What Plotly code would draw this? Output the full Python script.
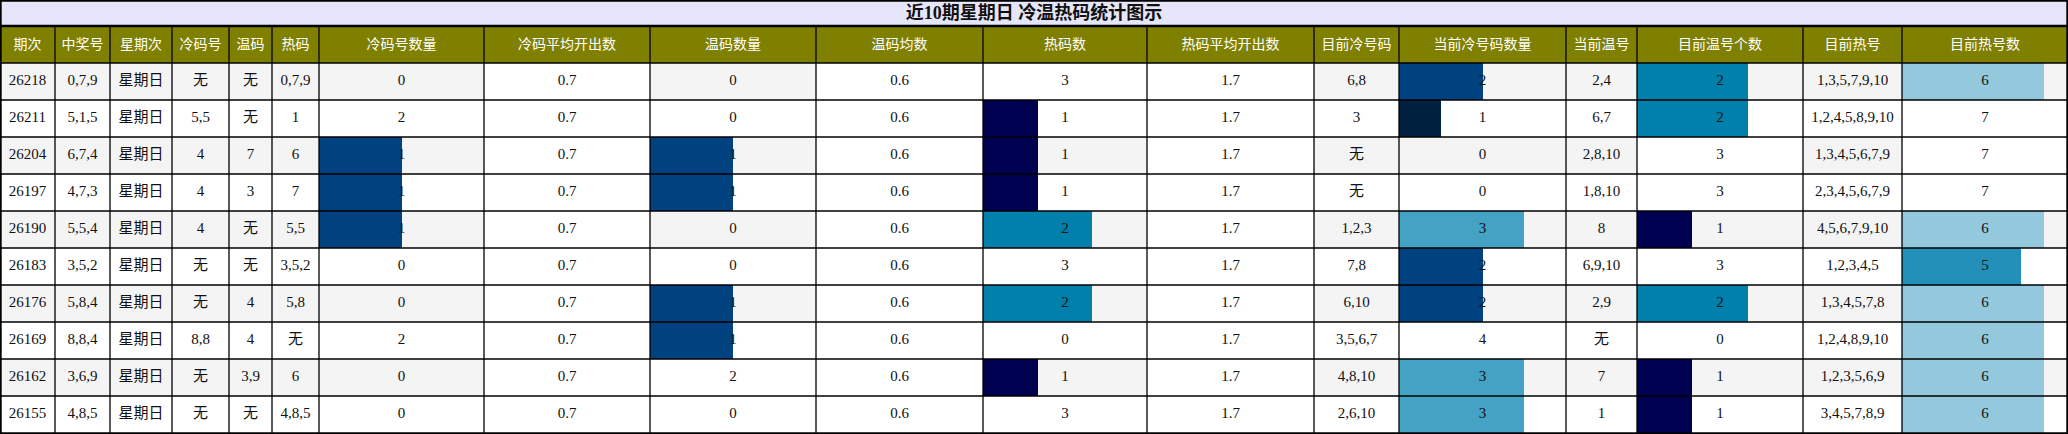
import plotly.graph_objects as go
from plotly.colors import find_intermediate_color, hex_to_rgb, label_rgb

# ---------------- data ----------------
title = "近10期星期日 冷温热码统计图示"
headers = ["期次", "中奖号", "星期次", "冷码号", "温码", "热码", "冷码号数量", "冷码平均开出数",
           "温码数量", "温码均数", "热码数", "热码平均开出数", "目前冷号码", "当前冷号码数量",
           "当前温号", "目前温号个数", "目前热号", "目前热号数"]
periods = ["26218", "26211", "26204", "26197", "26190", "26183", "26176", "26169", "26162", "26155"]
winning = ["0,7,9", "5,1,5", "6,7,4", "4,7,3", "5,5,4", "3,5,2", "5,8,4", "8,8,4", "3,6,9", "4,8,5"]
weekday = ["星期日", "星期日", "星期日", "星期日", "星期日", "星期日", "星期日", "星期日", "星期日", "星期日"]
cold_codes = ["无", "5,5", "4", "4", "4", "无", "无", "8,8", "无", "无"]
warm_codes = ["无", "无", "7", "3", "无", "无", "4", "4", "3,9", "无"]
hot_codes = ["0,7,9", "1", "6", "7", "5,5", "3,5,2", "5,8", "无", "6", "4,8,5"]
cold_count = [0, 2, 1, 1, 1, 0, 0, 2, 0, 0]
cold_avg = [0.7, 0.7, 0.7, 0.7, 0.7, 0.7, 0.7, 0.7, 0.7, 0.7]
warm_count = [0, 0, 1, 1, 0, 0, 1, 1, 2, 0]
warm_avg = [0.6, 0.6, 0.6, 0.6, 0.6, 0.6, 0.6, 0.6, 0.6, 0.6]
hot_count = [3, 1, 1, 1, 2, 3, 2, 0, 1, 3]
hot_avg = [1.7, 1.7, 1.7, 1.7, 1.7, 1.7, 1.7, 1.7, 1.7, 1.7]
cur_cold = ["6,8", "3", "无", "无", "1,2,3", "7,8", "6,10", "3,5,6,7", "4,8,10", "2,6,10"]
cur_cold_count = [2, 1, 0, 0, 3, 2, 2, 4, 3, 3]
cur_warm = ["2,4", "6,7", "2,8,10", "1,8,10", "8", "6,9,10", "2,9", "无", "7", "1"]
cur_warm_count = [2, 2, 3, 3, 1, 3, 2, 0, 1, 1]
cur_hot = ["1,3,5,7,9,10", "1,2,4,5,8,9,10", "1,3,4,5,6,7,9", "2,3,4,5,6,7,9", "4,5,6,7,9,10",
           "1,2,3,4,5", "1,3,4,5,7,8", "1,2,4,8,9,10", "1,2,3,5,6,9", "3,4,5,7,8,9"]
cur_hot_count = [6, 7, 7, 7, 6, 5, 6, 6, 6, 6]

columns = [periods, winning, weekday, cold_codes, warm_codes, hot_codes, cold_count, cold_avg,
           warm_count, warm_avg, hot_count, hot_avg, cur_cold, cur_cold_count, cur_warm,
           cur_warm_count, cur_hot, cur_hot_count]

# ---------------- layout / style ----------------
W, H = 2068, 434
COL_W = [55, 55, 62, 57, 43, 47, 165, 166, 166, 167, 164, 167, 85, 167, 71, 166, 99, 166]
TITLE_H, HEAD_H, ROW_H = 26, 37, 37
STRIPE = "#f4f4f4"
HEAD_BG = "#808000"
TITLE_BG = "#e6e6fa"
SCALE = [(0.0, "#001a35"), (0.25, "#002040"), (0.333, "#000050"), (0.5, "#00427f"),
         (0.667, "#0080aa"), (0.714, "#2290b8"), (0.75, "#44a2c4"), (0.857, "#94c8dc"),
         (1.0, "#ffffff")]


def scale_color(f):
    for (a, ca), (b, cb) in zip(SCALE[:-1], SCALE[1:]):
        if a <= f <= b:
            t = 0 if b == a else (f - a) / (b - a)
            return label_rgb(find_intermediate_color(hex_to_rgb(ca), hex_to_rgb(cb), t))
    return SCALE[-1][1]


edges = [0]
for w in COL_W:
    edges.append(edges[-1] + w)
n = len(periods)
y_top = TITLE_H + HEAD_H

def row_y(i):
    return y_top + ROW_H * i

fig = go.Figure()
shapes = []
# title and header backgrounds
shapes.append(dict(type="rect", x0=0, x1=W, y0=0, y1=TITLE_H, fillcolor=TITLE_BG, line_width=0, layer="below"))
shapes.append(dict(type="rect", x0=0, x1=W, y0=TITLE_H, y1=y_top, fillcolor=HEAD_BG, line_width=0, layer="below"))
# row stripes
for i in range(n):
    shapes.append(dict(type="rect", x0=0, x1=W, y0=row_y(i), y1=row_y(i) + ROW_H,
                       fillcolor=STRIPE if i % 2 == 0 else "#ffffff", line_width=0, layer="below"))

# bars in numeric columns
bx, by, bbase, bcol = [], [], [], []
for c, col in enumerate(columns):
    if isinstance(col[0], str):
        continue
    mx = max(col)
    for i, v in enumerate(col):
        if v <= 0:
            continue
        f = v / mx
        bx.append(f * COL_W[c])
        bbase.append(edges[c])
        by.append(row_y(i) + ROW_H / 2)
        bcol.append(scale_color(f))
fig.add_trace(go.Bar(orientation="h", x=bx, y=by, base=bbase, width=ROW_H,
                     marker=dict(color=bcol, line_width=0), hoverinfo="skip", showlegend=False))

# grid lines
LC = "#000000"
for e in edges[1:-1]:
    shapes.append(dict(type="line", x0=e, x1=e, y0=TITLE_H, y1=H, line=dict(color=LC, width=1.3), layer="above"))
for i in range(1, n):
    shapes.append(dict(type="line", x0=0, x1=W, y0=row_y(i), y1=row_y(i), line=dict(color=LC, width=1.3), layer="above"))
shapes.append(dict(type="line", x0=0, x1=W, y0=y_top, y1=y_top, line=dict(color=LC, width=1.3), layer="above"))
shapes.append(dict(type="line", x0=0, x1=W, y0=TITLE_H, y1=TITLE_H, line=dict(color=LC, width=2.5), layer="above"))
shapes.append(dict(type="rect", x0=0.8, x1=W - 0.8, y0=0.8, y1=H - 0.8, line=dict(color=LC, width=1.8), layer="above"))

# cell texts
tx, ty, tt = [], [], []
for c, col in enumerate(columns):
    for i, v in enumerate(col):
        tx.append((edges[c] + edges[c + 1]) / 2)
        ty.append(row_y(i) + ROW_H / 2)
        tt.append(str(v))
fig.add_trace(go.Scatter(x=tx, y=ty, text=tt, mode="text", hoverinfo="skip", showlegend=False,
                         textfont=dict(family="Liberation Serif, Noto Sans CJK SC", size=15, color="#111111")))
# header texts
hx = [(edges[c] + edges[c + 1]) / 2 for c in range(len(headers))]
hy = [TITLE_H + HEAD_H / 2 + 0.5 for _ in headers]
fig.add_trace(go.Scatter(x=hx, y=hy, text=headers, mode="text", hoverinfo="skip", showlegend=False,
                         textfont=dict(family="Noto Sans CJK SC", size=14, color="#ffffff")))
# title
fig.add_trace(go.Scatter(x=[W / 2], y=[TITLE_H / 2 + 1], text=["<b>" + title + "</b>"], mode="text",
                         hoverinfo="skip", showlegend=False,
                         textfont=dict(family="Liberation Serif, Noto Sans CJK SC", size=18, color="#111111")))

fig.update_layout(
    width=W, height=H, margin=dict(l=0, r=0, t=0, b=0),
    paper_bgcolor="#ffffff", plot_bgcolor="#ffffff",
    xaxis=dict(range=[0, W], visible=False, fixedrange=True),
    yaxis=dict(range=[H, 0], visible=False, fixedrange=True),
    barmode="overlay", bargap=0, shapes=shapes, showlegend=False,
)
fig.write_html("out.html", config={"displayModeBar": False},
               post_script="document.body.style.margin='0';document.body.style.overflow='hidden';")
